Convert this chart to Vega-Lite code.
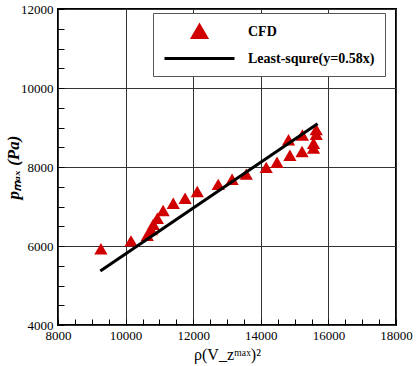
{
  "$schema": "https://vega.github.io/schema/vega-lite/v6.json",
  "width": 338,
  "height": 316,
  "autosize": {"type": "none"},
  "padding": {"left": 58, "top": 9, "right": 20, "bottom": 41},
  "background": "white",
  "config": {
    "view": {"stroke": "black", "strokeWidth": 2},
    "font": "Liberation Serif",
    "axis": {
      "domain": false,
      "grid": true,
      "gridColor": "#333333",
      "gridWidth": 1,
      "tickColor": "black",
      "tickWidth": 1,
      "tickSize": -6,
      "labelFont": "Liberation Serif",
      "labelFontSize": 13,
      "labelColor": "black",
      "titleFont": "Liberation Serif",
      "titleColor": "black"
    }
  },
  "data": {
    "values": [
      {"x": 9270, "y": 5930, "series": "CFD"},
      {"x": 10160, "y": 6130, "series": "CFD"},
      {"x": 10640, "y": 6270, "series": "CFD"},
      {"x": 10760, "y": 6420, "series": "CFD"},
      {"x": 10820, "y": 6550, "series": "CFD"},
      {"x": 10940, "y": 6700, "series": "CFD"},
      {"x": 11110, "y": 6900, "series": "CFD"},
      {"x": 11410, "y": 7080, "series": "CFD"},
      {"x": 11760, "y": 7210, "series": "CFD"},
      {"x": 12120, "y": 7380, "series": "CFD"},
      {"x": 12740, "y": 7560, "series": "CFD"},
      {"x": 13150, "y": 7690, "series": "CFD"},
      {"x": 13570, "y": 7820, "series": "CFD"},
      {"x": 14160, "y": 7990, "series": "CFD"},
      {"x": 14480, "y": 8120, "series": "CFD"},
      {"x": 14860, "y": 8300, "series": "CFD"},
      {"x": 15220, "y": 8390, "series": "CFD"},
      {"x": 15560, "y": 8480, "series": "CFD"},
      {"x": 15560, "y": 8600, "series": "CFD"},
      {"x": 14820, "y": 8690, "series": "CFD"},
      {"x": 15230, "y": 8810, "series": "CFD"},
      {"x": 15640, "y": 8950, "series": "CFD"},
      {"x": 15640, "y": 8830, "series": "CFD"},
      {"x": 9252, "y": 5366, "series": "Least-squre(y=0.58x)"},
      {"x": 15680, "y": 9094, "series": "Least-squre(y=0.58x)"}
    ]
  },
  "encoding": {
    "x": {
      "field": "x",
      "type": "quantitative",
      "scale": {"domain": [8000, 18000], "nice": false, "zero": false},
      "axis": {
        "values": [8000, 8500, 9000, 9500, 10000, 10500, 11000, 11500, 12000, 12500, 13000, 13500, 14000, 14500, 15000, 15500, 16000, 16500, 17000, 17500, 18000],
        "labelExpr": "datum.value % 2000 === 0 ? format(datum.value, 'd') : ''",
        "gridOpacity": {"condition": {"test": "datum.value % 2000 === 0", "value": 1}, "value": 0},
        "labelFont": "Liberation Serif",
        "labelFlush": false,
        "labelPadding": 10,
        "tickSize": -6,
        "title": "ρ(V_zᵐᵃˣ)²",
        "titleFontSize": 16,
        "titleFontWeight": "normal",
        "titlePadding": 4
      }
    },
    "y": {
      "field": "y",
      "type": "quantitative",
      "scale": {"domain": [4000, 12000], "nice": false, "zero": false},
      "axis": {
        "values": [4000, 4500, 5000, 5500, 6000, 6500, 7000, 7500, 8000, 8500, 9000, 9500, 10000, 10500, 11000, 11500, 12000],
        "labelExpr": "datum.value % 2000 === 0 ? format(datum.value, 'd') : ''",
        "gridOpacity": {"condition": {"test": "datum.value % 2000 === 0", "value": 1}, "value": 0},
        "labelFont": "Liberation Serif",
        "labelFlush": false,
        "labelPadding": 11,
        "tickSize": -6,
        "title": "pₘₐₓ (Pa)",
        "titleFontSize": 17,
        "titleFontWeight": "bold",
        "titleFontStyle": "italic",
        "titleX": -45,
        "titleY": 158,
        "titleAngle": -90,
        "titleAlign": "center",
        "titleBaseline": "middle"
      }
    },
    "color": {
      "field": "series",
      "type": "nominal",
      "scale": {"domain": ["CFD", "Least-squre(y=0.58x)"], "range": ["#d10000", "black"]},
      "legend": {
        "title": null,
        "orient": "none",
        "legendX": 95,
        "legendY": 4,
        "strokeColor": "#555555",
        "fillColor": "white",
        "padding": 10,
        "symbolSize": 196,
        "symbolOffset": 28,
        "labelFont": "Liberation Serif",
        "labelFontSize": 14,
        "labelFontWeight": "bold",
        "labelColor": "black",
        "labelOffset": 40,
        "rowPadding": 6,
        "encode": {
          "symbols": {
            "update": {
              "shape": {"signal": "datum.value === 'CFD' ? 'triangle-up' : 'M-5,0H5'"},
              "fill": {"signal": "datum.value === 'CFD' ? '#d10000' : 'transparent'"},
              "stroke": {"signal": "datum.value === 'CFD' ? 'transparent' : 'black'"},
              "strokeWidth": {"value": 3},
              "opacity": {"value": 1}
            }
          }
        }
      }
    }
  },
  "layer": [
    {
      "transform": [{"filter": "datum.series === 'CFD'"}],
      "mark": {"type": "point", "shape": "triangle-up", "filled": true, "size": 175, "opacity": 1}
    },
    {
      "transform": [{"filter": "datum.series !== 'CFD'"}],
      "mark": {"type": "line", "strokeWidth": 3}
    }
  ]
}
